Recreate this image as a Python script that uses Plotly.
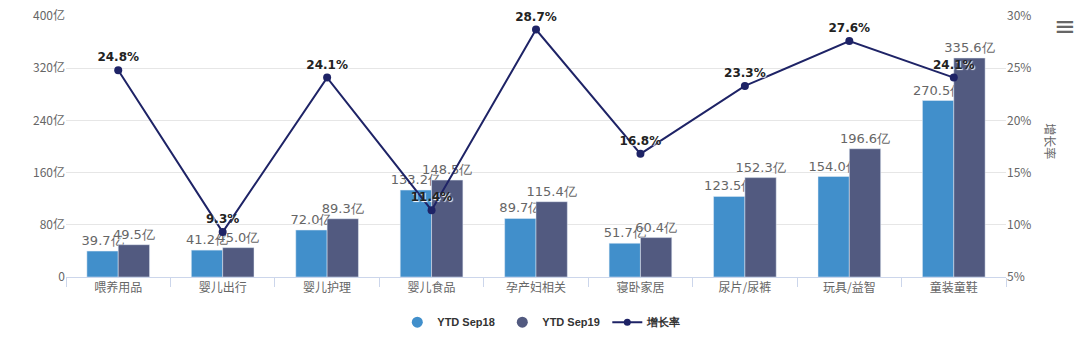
import plotly.graph_objects as go

categories = ["喂养用品", "婴儿出行", "婴儿护理", "婴儿食品", "孕产妇相关", "寝卧家居", "尿片/尿裤", "玩具/益智", "童装童鞋"]
ytd_sep18 = [39.7, 41.2, 72.0, 133.2, 89.7, 51.7, 123.5, 154.0, 270.5]
ytd_sep19 = [49.5, 45.0, 89.3, 148.5, 115.4, 60.4, 152.3, 196.6, 335.6]
growth = [24.8, 9.3, 24.1, 11.4, 28.7, 16.8, 23.3, 27.6, 24.1]
left_ticks = [0, 80, 160, 240, 320, 400]
right_ticks = [5, 10, 15, 20, 25, 30]

C18 = "#418fcb"
C19 = "#525a80"
CL = "#1e2366"
FONT = "Noto Sans CJK SC, Noto Sans, sans-serif"

fig = go.Figure()
fig.add_trace(go.Bar(
    x=categories, y=ytd_sep18, name="YTD Sep18", marker_color=C18,
    text=[f"{v:.1f}亿" for v in ytd_sep18], textposition="outside",
    textfont=dict(size=13, color="#666", family="DejaVu Sans", shadow="1px 1px 1px #fff"),
    cliponaxis=False, constraintext="none", showlegend=False))
fig.add_trace(go.Bar(
    x=categories, y=ytd_sep19, name="YTD Sep19", marker_color=C19,
    text=[f"{v:.1f}亿" for v in ytd_sep19], textposition="outside",
    textfont=dict(size=13, color="#666", family="DejaVu Sans", shadow="1px 1px 1px #fff"),
    cliponaxis=False, constraintext="none", showlegend=False))
fig.add_trace(go.Scatter(
    x=categories, y=growth, name="增长率", yaxis="y2", mode="lines+markers+text",
    line=dict(color=CL, width=2), marker=dict(color=CL, size=8),
    text=[f"{v:.1f}%" for v in growth], textposition="top center",
    textfont=dict(size=12, color="#222", family="DejaVu Sans", weight="bold",
                  shadow="1px 1px 1px #fff"),
    cliponaxis=False, showlegend=False))
# legend entries
fig.add_trace(go.Scatter(x=[None], y=[None], mode="markers", name="YTD Sep18",
                         marker=dict(color=C18, size=11, symbol="circle")))
fig.add_trace(go.Scatter(x=[None], y=[None], mode="markers", name="YTD Sep19",
                         marker=dict(color=C19, size=11, symbol="circle")))
fig.add_trace(go.Scatter(x=[None], y=[None], mode="lines+markers", name="增长率", yaxis="y2",
                         line=dict(color=CL, width=2), marker=dict(color=CL, size=7)))

fig.update_layout(
    width=1080, height=346,
    margin=dict(l=66, r=74, t=16, b=69),
    paper_bgcolor="white", plot_bgcolor="white",
    barmode="group", bargap=0.4, bargroupgap=0,
    font=dict(family=FONT, size=12, color="#666"),
    xaxis=dict(showline=True, linecolor="#ccd6eb", ticks="outside", tickson="boundaries",
               tickcolor="#ccd6eb", ticklen=9, tickfont=dict(size=12, color="#666"),
               automargin=False),
    yaxis=dict(range=[0, 400], tickvals=left_ticks, ticktext=[("0" if v == 0 else f"{v}亿") for v in left_ticks],
               showgrid=True, gridcolor="#e6e6e6", zeroline=False, ticks="",
               tickfont=dict(size=12, color="#666"), automargin=False),
    yaxis2=dict(range=[5, 30], tickvals=right_ticks, ticktext=[f"{v}%" for v in right_ticks],
                overlaying="y", side="right", showgrid=False, zeroline=False,
                tickfont=dict(size=12, color="#666"), automargin=False),
    legend=dict(orientation="h", x=0.52, xanchor="center",
                yref="container", y=0.069, yanchor="middle",
                font=dict(size=11, color="#333", family="Liberation Sans", weight="bold"),
                itemwidth=30, entrywidth=60, tracegroupgap=0),
    annotations=[
        dict(text="增长率", textangle=90, xref="paper", yref="paper", x=1.048, y=0.52,
             xanchor="center", yanchor="middle", showarrow=False,
             font=dict(size=12, color="#666")),
        dict(text="≡", xref="paper", yref="paper", x=1.063, y=0.96,
             xanchor="center", yanchor="middle", showarrow=False,
             font=dict(size=26, color="#666", family="DejaVu Sans")),
    ],
)

fig.write_html("out.html")
